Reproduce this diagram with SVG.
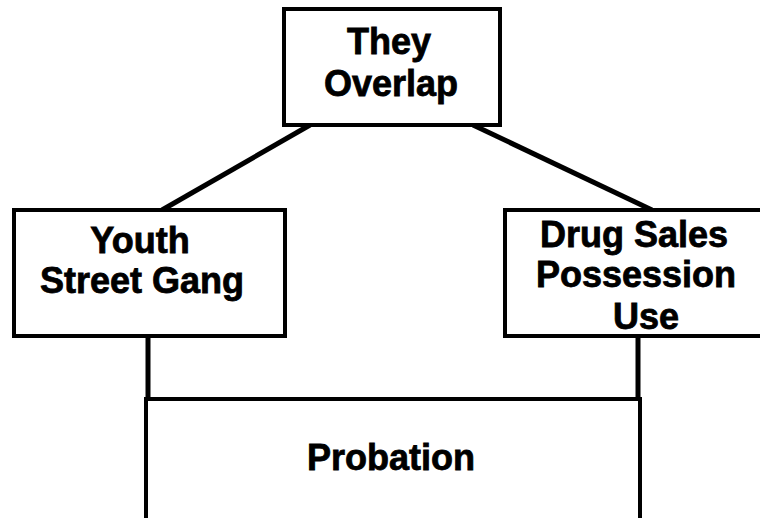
<svg xmlns="http://www.w3.org/2000/svg" width="760" height="518" viewBox="0 0 760 518">
<style>
.box{fill:#fff;stroke:#000;stroke-width:4}
.lbl{font-family:"Liberation Sans",Arial,sans-serif;font-weight:bold;font-size:36px;fill:#000;stroke:#000;stroke-width:0.8;text-anchor:middle}
.conn{stroke:#000;stroke-width:5;fill:none;stroke-linecap:butt}
</style>
<rect width="760" height="518" fill="#fff"/>
<g id="connectors">
<line class="conn" x1="310" y1="125" x2="162" y2="210"/>
<line class="conn" x1="473" y1="125" x2="652" y2="210"/>
<line class="conn" x1="148" y1="336" x2="148" y2="399"/>
<line class="conn" x1="638" y1="336" x2="638" y2="399"/>
</g>
<g id="overlap">
<rect class="box" x="284" y="9" width="216" height="116"/>
<text class="lbl" x="389" y="54">They</text>
<text class="lbl" x="391" y="96">Overlap</text>
</g>
<g id="gang">
<rect class="box" x="14" y="210" width="271" height="126"/>
<text class="lbl" x="140" y="253">Youth</text>
<text class="lbl" x="142" y="293">Street Gang</text>
</g>
<g id="drugs">
<rect class="box" x="505" y="210" width="270" height="126"/>
<text class="lbl" x="634" y="247">Drug Sales</text>
<text class="lbl" x="636" y="287">Possession</text>
<text class="lbl" x="646" y="329">Use</text>
</g>
<g id="probation">
<rect class="box" x="146" y="399" width="494" height="140"/>
<text class="lbl" x="391" y="470">Probation</text>
</g>
</svg>
